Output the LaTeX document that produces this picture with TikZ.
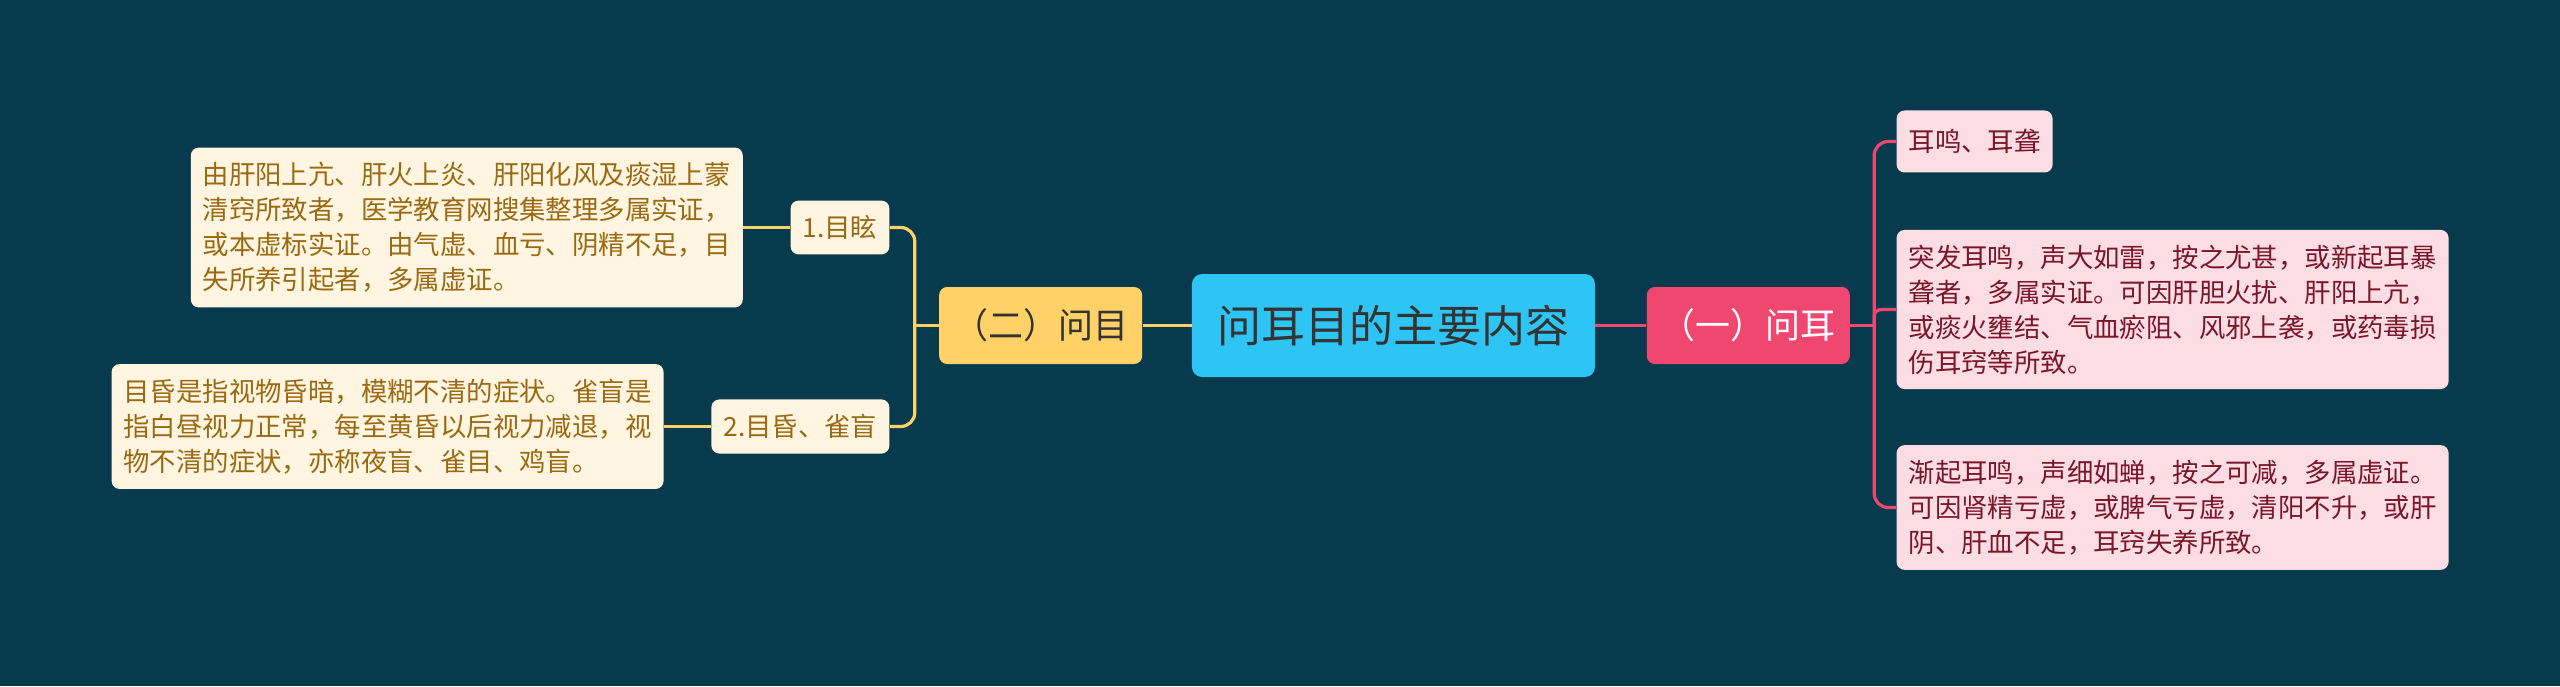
\documentclass[tikz,border=0pt]{standalone}
\usepackage{fontspec}
\newfontfamily\cjk{Noto Sans CJK SC}
\usetikzlibrary{positioning}
\definecolor{bgblue}{HTML}{083A4E}
\definecolor{rootcyan}{HTML}{2EC4F3}
\definecolor{eyeyellow}{HTML}{FFD166}
\definecolor{earpink}{HTML}{EF476F}
\definecolor{creamfill}{HTML}{FFF5E1}
\definecolor{creamtext}{HTML}{9A6A12}
\definecolor{rosefill}{HTML}{FCDDE4}
\definecolor{rosetext}{HTML}{7A1629}
\begin{document}
\begin{tikzpicture}[
    rootbox/.style={fill=rootcyan, text=black!80, rounded corners=5pt,
      minimum width=201.5pt, minimum height=51.5pt,
      font=\cjk\fontsize{22pt}{26pt}\selectfont},
    topicbox/.style={rounded corners=4pt, minimum width=101.5pt,
      minimum height=38.5pt, font=\cjk\fontsize{17.5pt}{21pt}\selectfont},
    eyeleaf/.style={fill=creamfill, text=creamtext, rounded corners=4pt,
      align=left, inner xsep=6pt, inner ysep=7.4pt,
      font=\cjk\fontsize{13.2pt}{17.5pt}\selectfont},
    earleaf/.style={eyeleaf, fill=rosefill, text=rosetext},
    eyeline/.style={draw=eyeyellow, line width=1.6pt, rounded corners=7pt},
    earline/.style={eyeline, draw=earpink}
  ]
  % Background, also fixes the margins
  \fill[bgblue] (-696.75pt,162.75pt) rectangle (583.25pt,-180.25pt);

  % Central topic and the two main branches
  \node[rootbox] (root) at (0,0) {问耳目的主要内容};
  \node[topicbox, fill=eyeyellow, text=black!80, left=24.5pt of root] (eye) {（二）问目};
  \node[topicbox, fill=earpink, text=white, right=25.5pt of root] (ear) {（一）问耳};

  % Eye branch
  \node[eyeleaf, anchor=east] (dizzy) at ([shift={(-24.5pt,49pt)}]eye.west) {1.目眩};
  \node[eyeleaf, anchor=east] (dim) at ([shift={(-24.5pt,-50.5pt)}]eye.west) {2.目昏、雀盲};
  \node[eyeleaf, left=23.5pt of dizzy] (dizzytext)
    {由肝阳上亢、肝火上炎、肝阳化风及痰湿上蒙\\
     清窍所致者，医学教育网搜集整理多属实证，\\
     或本虚标实证。由气虚、血亏、阴精不足，目\\
     失所养引起者，多属虚证。};
  \node[eyeleaf, left=23.5pt of dim] (dimtext)
    {目昏是指视物昏暗，模糊不清的症状。雀盲是\\
     指白昼视力正常，每至黄昏以后视力减退，视\\
     物不清的症状，亦称夜盲、雀目、鸡盲。};

  % Ear branch
  \node[earleaf, anchor=west, minimum height=31pt] (tinnitus)
    at ([shift={(23pt,92pt)}]ear.east) {耳鸣、耳聋};
  \node[earleaf, anchor=west] (sudden) at ([shift={(23pt,8pt)}]ear.east)
    {突发耳鸣，声大如雷，按之尤甚，或新起耳暴\\
     聋者，多属实证。可因肝胆火扰、肝阳上亢，\\
     或痰火壅结、气血瘀阻、风邪上袭，或药毒损\\
     伤耳窍等所致。};
  \node[earleaf, anchor=west] (gradual) at ([shift={(23pt,-91pt)}]ear.east)
    {渐起耳鸣，声细如蝉，按之可减，多属虚证。\\
     可因肾精亏虚，或脾气亏虚，清阳不升，或肝\\
     阴、肝血不足，耳窍失养所致。};

  % Connectors
  \draw[eyeline] (root.west) -- (eye.east);
  \draw[earline] (root.east) -- (ear.west);
  \coordinate (eyebus) at ([xshift=-12pt]eye.west);
  \coordinate (earbus) at ([xshift=12pt]ear.east);
  \draw[eyeline] (eye.west) -- (eyebus);
  \draw[eyeline] (dizzy.east) -| (eyebus) |- (dim.east);
  \draw[eyeline] (dizzy.west) -- (dizzytext.east);
  \draw[eyeline] (dim.west) -- (dimtext.east);
  \draw[earline] (ear.east) -- (earbus);
  \draw[earline] (tinnitus.west) -| (earbus) |- (gradual.west);
  \draw[earline, rounded corners=3.5pt] (earbus) |- (sudden.west);
\end{tikzpicture}
\end{document}
